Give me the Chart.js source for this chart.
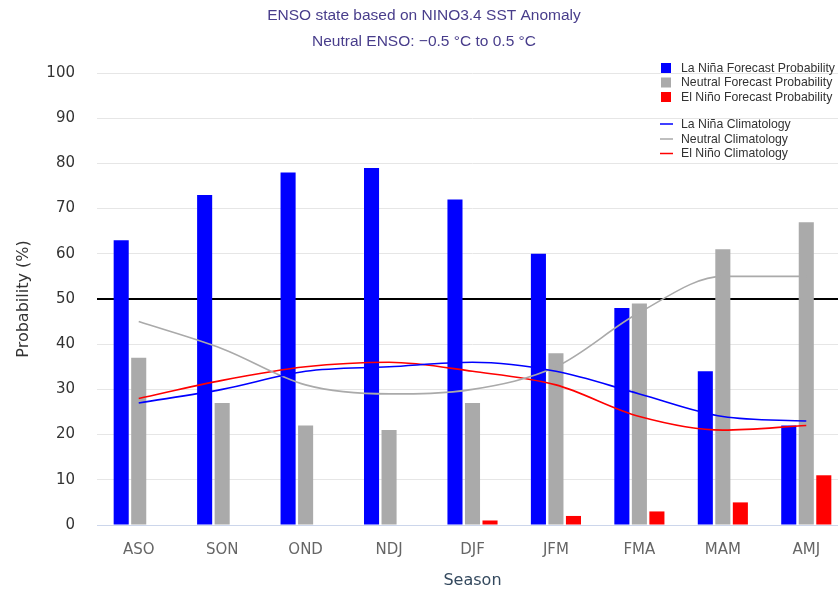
<!DOCTYPE html>
<html>
<head>
<meta charset="utf-8">
<title>ENSO state based on NINO3.4 SST Anomaly</title>
<script src="https://cdn.jsdelivr.net/npm/chart.js@4.4.1/dist/chart.umd.min.js"></script>
<style>
  html, body { margin: 0; padding: 0; background: #ffffff; overflow: hidden; }
  #wrap { position: absolute; left: 0; top: 0; width: 858px; height: 592px; }
</style>
</head>
<body>
<div id="wrap"><canvas id="chart" width="858" height="592"></canvas></div>
<script>
// Seasons (3-month running periods)
const seasons = ['ASO', 'SON', 'OND', 'NDJ', 'DJF', 'JFM', 'FMA', 'MAM', 'AMJ'];

// Forecast probabilities (%)
const laNinaForecast  = [63, 73, 78, 79, 72, 60, 48, 34, 22];
const neutralForecast = [37, 27, 22, 21, 27, 38, 49, 61, 67];
const elNinoForecast  = [0, 0, 0, 0, 1, 2, 3, 5, 11];

// Climatological probabilities (%)
const laNinaClim  = [27, 30, 34, 35, 36, 34, 29, 24, 23];
const neutralClim = [45, 39, 31, 29, 30, 35, 47, 55, 55];
const elNinoClim  = [28, 32, 35, 36, 34, 31, 24, 21, 22];

// Axis ticks
const yTicks = [0, 10, 20, 30, 40, 50, 60, 70, 80, 90, 100];

const titleLines = ['ENSO state based on NINO3.4 SST Anomaly', 'Neutral ENSO: \u22120.5 \u00B0C to 0.5 \u00B0C'];

const BLUE = '#0000ff', GREY = '#aaaaaa', RED = '#ff0000';

// Floating legend drawn over the top-right of the plot area
const floatingLegend = {
  id: 'floatingLegend',
  afterDraw(chart) {
    const ctx = chart.ctx;
    const ds = chart.data.datasets;
    const boxX = 661, textX = 681, textWidth = 154;
    const rows = [
      { i: 0, y: 68 }, { i: 1, y: 82.5 }, { i: 2, y: 97 },
      { i: 3, y: 124 }, { i: 4, y: 139 }, { i: 5, y: 153.5 }
    ];
    ctx.save();
    ctx.font = '13px "Liberation Sans", Arial, sans-serif';
    // condensed lettering: widest label spans textWidth
    const widest = Math.max(...ds.map(d => ctx.measureText(d.label).width));
    const sx = textWidth / widest;
    ctx.textBaseline = 'middle';
    ctx.textAlign = 'left';
    rows.forEach(r => {
      const d = ds[r.i];
      if (d.type === 'line') {
        ctx.strokeStyle = d.borderColor;
        ctx.lineWidth = 1.5;
        ctx.beginPath();
        ctx.moveTo(boxX - 1, r.y);
        ctx.lineTo(boxX + 12, r.y);
        ctx.stroke();
      } else {
        ctx.fillStyle = d.backgroundColor;
        ctx.fillRect(boxX, r.y - 5, 10, 10);
      }
      ctx.save();
      ctx.translate(textX, r.y);
      ctx.scale(sx, 1);
      ctx.fillStyle = '#333333';
      ctx.fillText(d.label, 0, 0);
      ctx.restore();
    });
    ctx.restore();
  }
};

const barCommon = { categoryPercentage: 0.63, barPercentage: 0.86, borderWidth: 0, order: 2 };
const lineCommon = { type: 'line', pointRadius: 0, borderWidth: 1.6, fill: false,
                     cubicInterpolationMode: 'monotone', order: 1 };

new Chart(document.getElementById('chart'), {
  type: 'bar',
  data: {
    labels: seasons,
    datasets: [
      Object.assign({ label: 'La Niña Forecast Probability', data: laNinaForecast, backgroundColor: BLUE }, barCommon),
      Object.assign({ label: 'Neutral Forecast Probability', data: neutralForecast, backgroundColor: GREY }, barCommon),
      Object.assign({ label: 'El Niño Forecast Probability', data: elNinoForecast, backgroundColor: RED }, barCommon),
      Object.assign({ label: 'La Niña Climatology', data: laNinaClim, borderColor: BLUE }, lineCommon),
      Object.assign({ label: 'Neutral Climatology', data: neutralClim, borderColor: GREY }, lineCommon),
      Object.assign({ label: 'El Niño Climatology', data: elNinoClim, borderColor: RED }, lineCommon)
    ]
  },
  options: {
    responsive: false,
    animation: false,
    layout: { padding: { left: 0, right: 10, top: 0, bottom: 0 } },
    plugins: {
      legend: { display: false },
      tooltip: { enabled: false },
      title: {
        display: true,
        text: titleLines,
        color: '#483d8b',
        font: { family: '"Liberation Sans", Arial, sans-serif', size: 15.5, weight: 'normal', lineHeight: '26px' },
        padding: { top: 3, bottom: 18 }
      }
    },
    scales: {
      x: {
        grid: { display: false, drawTicks: false },
        border: { display: true, color: '#ccd6eb', width: 1 },
        ticks: { color: '#666666', font: { family: '"DejaVu Sans", sans-serif', size: 15 }, padding: 16 },
        title: { display: true, text: 'Season', color: '#34495e',
                 font: { family: '"DejaVu Sans", sans-serif', size: 16 }, padding: { top: 11, bottom: 2 } },
        afterFit(scale) { scale.height = 67; }
      },
      y: {
        min: 0, max: 100,
        afterBuildTicks(scale) { scale.ticks = yTicks.map(v => ({ value: v })); },
        grid: {
          drawTicks: false,
          color: c => (c.tick && c.tick.value === 50) ? '#000000' : '#e6e6e6',
          lineWidth: c => (c.tick && c.tick.value === 50) ? 2 : 1
        },
        border: { display: false },
        ticks: { color: '#333333', font: { family: '"DejaVu Sans", sans-serif', size: 15 }, padding: 22 },
        title: { display: true, text: 'Probability (%)', color: '#333333',
                 font: { family: '"DejaVu Sans", sans-serif', size: 16 }, padding: { top: 14, bottom: 0 } },
        afterFit(scale) { scale.width = 97; }
      }
    }
  },
  plugins: [floatingLegend]
});
</script>
</body>
</html>
